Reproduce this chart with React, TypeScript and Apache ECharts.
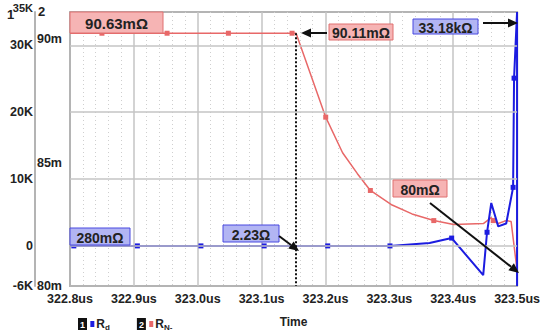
import React, { useEffect, useRef } from "react";
import * as echarts from "echarts";

// Time axis (us)
const xTicks = [322.8, 322.9, 323.0, 323.1, 323.2, 323.3, 323.4, 323.5];

// Series 1: R_d (kΩ, left outer axis)
const rdTime = [322.8, 322.806, 322.9055, 323.005, 323.104, 323.2035, 323.301, 323.363, 323.3976, 323.447, 323.453, 323.4596, 323.4705, 323.483, 323.4938, 323.4953, 323.5, 323.5];
const rdValue = [0, 0, 0, 0, 0, 0, 0, 0.44, 1.17, -4.38, 2.04, 6.42, 2.92, 3.36, 8.76, 25.1, 35, -6];
const rdMarker = [0, 1, 1, 1, 1, 1, 1, 0, 1, 0, 1, 0, 0, 0, 1, 1, 0, 0];

// Series 2: R_N- (mΩ, inner axis)
const rnTime = [322.8, 322.85, 322.952, 323.048, 323.1477, 323.154, 323.2004, 323.2268, 323.25, 323.2703, 323.3044, 323.3355, 323.3696, 323.4007, 323.4472, 323.4596, 323.4627, 323.4705, 323.4829, 323.4907, 323.5];
const rnValue = [90.24, 90.24, 90.24, 90.24, 90.24, 90.24, 86.84, 85.4, 84.55, 83.87, 83.28, 82.92, 82.65, 82.49, 82.53, 82.77, 82.65, 82.53, 82.65, 82.61, 80.63];
const rnMarker = [0, 1, 1, 1, 1, 0, 1, 0, 0, 1, 0, 0, 1, 0, 0, 0, 1, 0, 0, 0, 0];

// Axis tick labels
const rdTicks = [-6, 0, 10, 20, 30, 35];
const rnTicks = [80, 85, 90];
const rdGrid = [0, 10, 20, 30];
const cursorTime = 323.154;
const cursorValue = 90.24;

const FONT = "'Liberation Sans', Arial, sans-serif";
const BLUE = "#1c1ce0";
const RED = "#e86868";

function arrow(x1: number, y1: number, x2: number, y2: number) {
  const dx = x2 - x1, dy = y2 - y1;
  const len = Math.sqrt(dx * dx + dy * dy);
  const ux = dx / len, uy = dy / len;
  const hl = 10, hw = 4.5;
  const bx = x2 - ux * hl, by = y2 - uy * hl;
  return [
    { type: "line", z: 100, shape: { x1, y1, x2: bx, y2: by }, style: { stroke: "#111", lineWidth: 2 } },
    {
      type: "polygon", z: 100,
      shape: { points: [[x2, y2], [bx - uy * hw, by + ux * hw], [bx + uy * hw, by - ux * hw]] },
      style: { fill: "#111" },
    },
  ];
}

function box(x: number, y: number, w: number, h: number, text: string, kind: "red" | "blue", size = 14) {
  const fill = kind === "red" ? "#f6b4b4" : "#b2b5f3";
  const stroke = kind === "red" ? "#e07070" : "#4848e0";
  return [
    { type: "rect", z: 100, shape: { x, y, width: w, height: h }, style: { fill, stroke, lineWidth: 1 } },
    {
      type: "text", z: 101,
      x: x + w / 2, y: y + h / 2 + 1,
      style: { text, fill: "#222", font: `bold ${size}px ${FONT}`, align: "center", verticalAlign: "middle" },
    },
  ];
}

export default function App() {
  const ref = useRef<HTMLDivElement>(null);
  useEffect(() => {
    if (!ref.current) return;
    const chart = echarts.init(ref.current, undefined, { renderer: "svg" });
    const rdData = rdTime.map((t, i) => ({ value: [t, rdValue[i]], symbol: rdMarker[i] ? "rect" : "none", symbolSize: 5 }));
    const rnData = rnTime.map((t, i) => ({ value: [t, rnValue[i]], symbol: rnMarker[i] ? "rect" : "none", symbolSize: 5 }));
    const labelStyle = { fontFamily: FONT, fontWeight: "bold" as const, fontSize: 12, color: "#222" };

    chart.setOption({
      animation: false,
      backgroundColor: "#fff",
      grid: { left: 70, right: 22, top: 12, bottom: 40, show: true, borderColor: "#b4b4b4", borderWidth: 2 },
      legend: {
        left: 68, top: 312, icon: "none", itemWidth: 0, itemGap: 22, selectedMode: false,
        data: ["Rd", "RN-"],
        formatter: (name: string) => name === "Rd" ? "{num|1} {sq1|}{r|R}{sub|d}" : "{num|2} {sq2|}{r|R}{sub|N-}",
        textStyle: {
          fontFamily: FONT,
          rich: {
            num: { backgroundColor: "#111", color: "#fff", fontSize: 9, fontWeight: "bold", padding: [2, 2, 1, 2], fontFamily: FONT },
            sq1: { backgroundColor: BLUE, width: 4, height: 6 },
            sq2: { backgroundColor: RED, width: 4, height: 6 },
            r: { fontSize: 12, fontWeight: "bold", color: "#222", fontFamily: FONT, padding: [0, 0, 0, 2] },
            sub: { fontSize: 8, fontWeight: "bold", color: "#222", fontFamily: FONT, padding: [7, 0, 0, 0] },
          },
        },
      },
      xAxis: {
        type: "value", min: xTicks[0], max: xTicks[xTicks.length - 1], interval: 0.1,
        name: "Time", nameLocation: "middle", nameGap: 30,
        nameTextStyle: { ...labelStyle, fontSize: 12 },
        axisLine: { show: false }, axisTick: { show: false },
        axisLabel: { ...labelStyle, fontSize: 12.5, margin: 6, formatter: (v: number) => v.toFixed(1) + "us" },
        splitLine: { show: true, lineStyle: { color: "#c4c4c4", width: 1.5 } },
        minorTick: { show: false, splitNumber: 5 },
        minorSplitLine: { show: true, lineStyle: { color: "#cfcfcf", width: 1, type: [1, 3] } },
      },
      yAxis: [
        {
          type: "value", position: "left", offset: 35, min: -6, max: 35,
          axisLine: { show: true, lineStyle: { color: "#b4b4b4", width: 2 } },
          axisTick: { show: false }, splitLine: { show: false },
          axisLabel: {
            ...labelStyle, fontSize: 12.5, margin: 2, customValues: rdTicks,
            formatter: (v: number) => v === 35 ? "{top|35K}" : v === 0 ? "0" : v + "K",
            rich: { top: { fontSize: 11, fontWeight: "bold", fontFamily: FONT, color: "#222", padding: [0, 0, 8, 0] } },
          },
        },
        {
          type: "value", position: "left", offset: 0, min: 80, max: 91.1, interval: 5,
          axisLine: { show: true, lineStyle: { color: "#b4b4b4", width: 2 } },
          axisTick: { show: false }, splitLine: { show: false },
          axisLabel: { ...labelStyle, fontSize: 12.5, margin: 8, customValues: rnTicks, formatter: (v: number) => v + "m" },
        },
      ],
      series: [
        {
          name: "grid", type: "line", yAxisIndex: 0, z: 1, silent: true,
          data: [[xTicks[0], 0]], symbol: "none", lineStyle: { opacity: 0 },
          markLine: {
            silent: true, symbol: "none", label: { show: false },
            lineStyle: { color: "#c4c4c4", width: 1.5, type: "solid" },
            data: rdGrid.map((v) => ({ yAxis: v })),
          },
        },
        {
          name: "Rd", type: "line", yAxisIndex: 0, z: 3, data: rdData,
          symbol: "rect", symbolSize: 5, showAllSymbol: true,
          lineStyle: { color: BLUE, width: 2 }, itemStyle: { color: BLUE },
        },
        {
          name: "RN-", type: "line", yAxisIndex: 1, z: 2, data: rnData,
          symbol: "rect", symbolSize: 5, showAllSymbol: true,
          lineStyle: { color: RED, width: 1.5 }, itemStyle: { color: RED },
          markLine: {
            silent: true, symbol: "none", label: { show: false },
            lineStyle: { color: "#111", width: 2, type: [2, 2] },
            data: [[{ coord: [cursorTime, cursorValue] }, { coord: [cursorTime, 80] }]],
          },
        },
      ],
      graphic: [
        { type: "text", x: 7, y: 8, style: { text: "1", font: `bold 13px ${FONT}`, fill: "#222" } },
        { type: "text", x: 38, y: 5, style: { text: "2", font: `bold 13px ${FONT}`, fill: "#222" } },
        ...box(70, 12, 93, 21, "90.63mΩ", "red", 15),
        ...box(329, 24, 64, 16, "90.11mΩ", "red"),
        ...arrow(327, 33, 301, 33),
        ...box(413, 19, 65, 15, "33.18kΩ", "blue"),
        ...arrow(483, 23, 518, 23),
        ...box(70, 228, 60, 17, "280mΩ", "blue"),
        ...box(223, 225, 56, 17, "2.23Ω", "blue"),
        ...arrow(279, 236, 299, 251),
        ...box(393, 180, 54, 17, "80mΩ", "red"),
        ...arrow(430, 203, 519, 273),
      ],
    });
    return () => chart.dispose();
  }, []);
  return <div ref={ref} style={{ position: "absolute", left: 0, top: 0, width: 543, height: 333 }} />;
}
